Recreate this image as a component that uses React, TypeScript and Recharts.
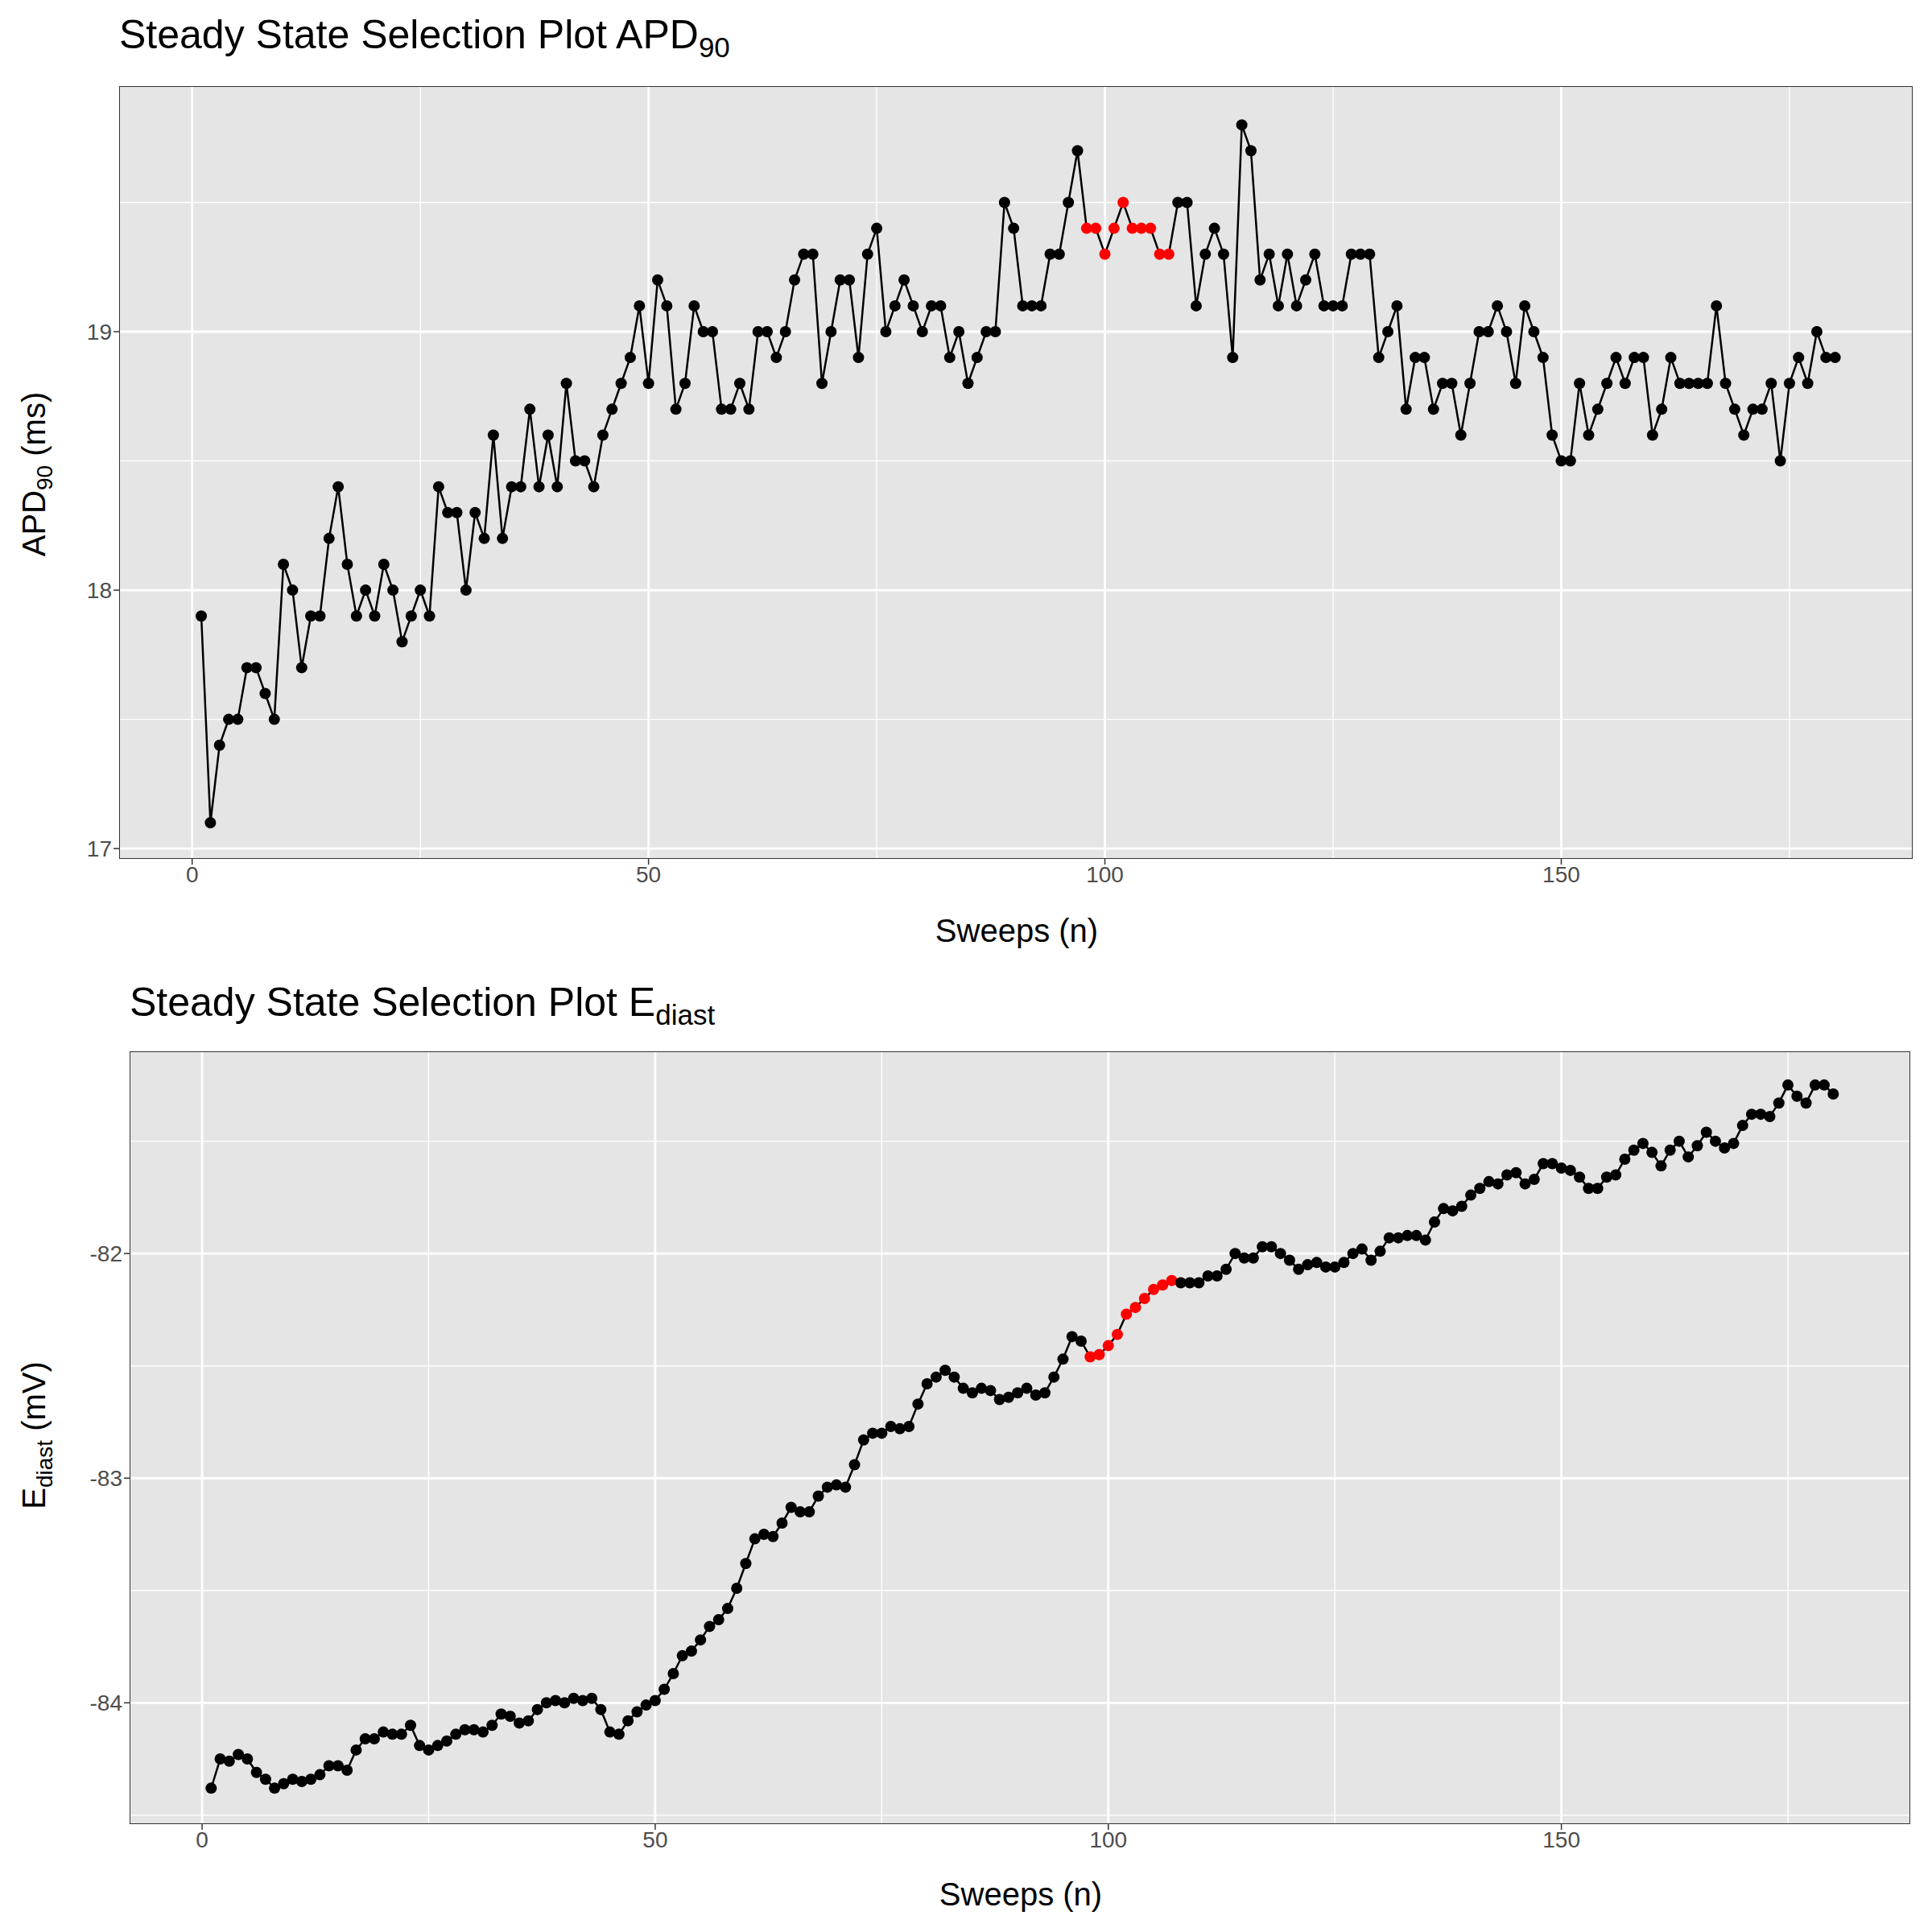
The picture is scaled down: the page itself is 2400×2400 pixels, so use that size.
import { LineChart, Line, XAxis, YAxis, CartesianGrid, ReferenceLine } from 'recharts';

const apd90 = [
  17.9, 17.1, 17.4, 17.5, 17.5, 17.7, 17.7, 17.6, 17.5, 18.1, 18.0, 17.7, 17.9, 17.9, 18.2, 18.4, 18.1, 17.9, 18.0, 17.9,
  18.1, 18.0, 17.8, 17.9, 18.0, 17.9, 18.4, 18.3, 18.3, 18.0, 18.3, 18.2, 18.6, 18.2, 18.4, 18.4, 18.7, 18.4, 18.6, 18.4,
  18.8, 18.5, 18.5, 18.4, 18.6, 18.7, 18.8, 18.9, 19.1, 18.8, 19.2, 19.1, 18.7, 18.8, 19.1, 19.0, 19.0, 18.7, 18.7, 18.8,
  18.7, 19.0, 19.0, 18.9, 19.0, 19.2, 19.3, 19.3, 18.8, 19.0, 19.2, 19.2, 18.9, 19.3, 19.4, 19.0, 19.1, 19.2, 19.1, 19.0,
  19.1, 19.1, 18.9, 19.0, 18.8, 18.9, 19.0, 19.0, 19.5, 19.4, 19.1, 19.1, 19.1, 19.3, 19.3, 19.5, 19.7, 19.4, 19.4, 19.3,
  19.4, 19.5, 19.4, 19.4, 19.4, 19.3, 19.3, 19.5, 19.5, 19.1, 19.3, 19.4, 19.3, 18.9, 19.8, 19.7, 19.2, 19.3, 19.1, 19.3,
  19.1, 19.2, 19.3, 19.1, 19.1, 19.1, 19.3, 19.3, 19.3, 18.9, 19.0, 19.1, 18.7, 18.9, 18.9, 18.7, 18.8, 18.8, 18.6, 18.8,
  19.0, 19.0, 19.1, 19.0, 18.8, 19.1, 19.0, 18.9, 18.6, 18.5, 18.5, 18.8, 18.6, 18.7, 18.8, 18.9, 18.8, 18.9, 18.9, 18.6,
  18.7, 18.9, 18.8, 18.8, 18.8, 18.8, 19.1, 18.8, 18.7, 18.6, 18.7, 18.7, 18.8, 18.5, 18.8, 18.9, 18.8, 19.0, 18.9, 18.9,
];

const ediast = [
  -84.38, -84.25, -84.26, -84.23, -84.25, -84.31, -84.34, -84.38, -84.36, -84.34, -84.35, -84.34, -84.32, -84.28, -84.28,
  -84.3, -84.21, -84.16, -84.16, -84.13, -84.14, -84.14, -84.1, -84.19, -84.21, -84.19, -84.17, -84.14, -84.12, -84.12,
  -84.13, -84.1, -84.05, -84.06, -84.09, -84.08, -84.03, -84.0, -83.99, -84.0, -83.98, -83.99, -83.98, -84.03, -84.13,
  -84.14, -84.08, -84.04, -84.01, -83.99, -83.94, -83.87, -83.79, -83.77, -83.72, -83.66, -83.63, -83.58, -83.49, -83.38,
  -83.27, -83.25, -83.26, -83.2, -83.13, -83.15, -83.15, -83.08, -83.04, -83.03, -83.04, -82.94, -82.83, -82.8, -82.8,
  -82.77, -82.78, -82.77, -82.67, -82.58, -82.55, -82.52, -82.55, -82.6, -82.62, -82.6, -82.61, -82.65, -82.64, -82.62,
  -82.6, -82.63, -82.62, -82.55, -82.47, -82.37, -82.39, -82.46, -82.45, -82.41, -82.36, -82.27, -82.24, -82.2, -82.16,
  -82.14, -82.12, -82.13, -82.13, -82.13, -82.1, -82.1, -82.07, -82.0, -82.02, -82.02, -81.97, -81.97, -82.0, -82.03,
  -82.07, -82.05, -82.04, -82.06, -82.06, -82.04, -82.0, -81.98, -82.03, -81.99, -81.93, -81.93, -81.92, -81.92, -81.94,
  -81.86, -81.8, -81.81, -81.79, -81.74, -81.71, -81.68, -81.69, -81.65, -81.64, -81.69, -81.67, -81.6, -81.6, -81.62,
  -81.63, -81.66, -81.71, -81.71, -81.66, -81.65, -81.58, -81.54, -81.51, -81.55, -81.61, -81.54, -81.5, -81.57, -81.52,
  -81.46, -81.5, -81.53, -81.51, -81.43, -81.38, -81.38, -81.39, -81.33, -81.25, -81.3, -81.33, -81.25, -81.25, -81.29,
];

// selected steady-state window (sweeps)
const selStart = 98;
const selEnd = 107;

const xMajor = [0, 50, 100, 150];
const xMinor = [25, 75, 125, 175];
const apdMajor = [17, 18, 19];
const apdMinor = [17.5, 18.5, 19.5];
const edMajor = [-84, -83, -82];
const edMinor = [-84.5, -83.5, -82.5, -81.5];

const apdData = apd90.map((v, i) => ({ sweep: i + 1, value: v }));
const edData = ediast.map((v, i) => ({ sweep: i + 1, value: v }));

const FONT = '"Liberation Sans", Arial, sans-serif';
const tick = { fill: '#4D4D4D', fontSize: 28, fontFamily: FONT };

const SelDot = (props: any) => {
  const { cx, cy, payload } = props;
  const sel = payload.sweep >= selStart && payload.sweep <= selEnd;
  return <circle cx={cx} cy={cy} r={7} fill={sel ? '#FF0000' : '#000'} stroke="none" />;
};

function Panel({ data, top, left, right, panelTop, panelBottom, domain, major, minor }: any) {
  const h = 1200;
  return (
    <div style={{ position: 'absolute', left: 0, top }}>
      <LineChart
        width={2400}
        height={h}
        data={data}
        margin={{ top: panelTop, right: 2400 - right, left: left - 80, bottom: h - panelBottom - 50 }}
      >
        <CartesianGrid fill="#E5E5E5" stroke="none" horizontal={false} vertical={false} />
        {minor.map((v: number) => (
          <ReferenceLine key={'ym' + v} y={v} stroke="#fff" strokeWidth={1.4} />
        ))}
        {xMinor.map((v) => (
          <ReferenceLine key={'xm' + v} x={v} stroke="#fff" strokeWidth={1.4} />
        ))}
        {major.map((v: number) => (
          <ReferenceLine key={'y' + v} y={v} stroke="#fff" strokeWidth={2.8} />
        ))}
        {xMajor.map((v) => (
          <ReferenceLine key={'x' + v} x={v} stroke="#fff" strokeWidth={2.8} />
        ))}
        <XAxis
          dataKey="sweep"
          type="number"
          domain={[-8, 188.5]}
          ticks={xMajor}
          allowDataOverflow
          height={50}
          tick={tick}
          axisLine={false}
          tickLine={{ stroke: '#333', strokeWidth: 1.5 }}
          tickSize={7}
        />
        <YAxis
          type="number"
          domain={domain}
          ticks={major}
          allowDataOverflow
          width={80}
          tick={tick}
          axisLine={false}
          tickLine={{ stroke: '#333', strokeWidth: 1.5 }}
          tickSize={7}
        />
        <Line
          dataKey="value"
          stroke="#000"
          strokeWidth={2.5}
          dot={<SelDot />}
          activeDot={false}
          isAnimationActive={false}
        />
      </LineChart>
      <div
        style={{
          position: 'absolute',
          left,
          top: panelTop,
          width: right - left,
          height: panelBottom - panelTop,
          border: '1.5px solid #333',
          boxSizing: 'border-box',
          pointerEvents: 'none',
        }}
      />
    </div>
  );
}

const txt = { position: 'absolute' as const, fontFamily: FONT, color: '#000', whiteSpace: 'nowrap' as const };
const center = 'translate(-50%, -50%)';

export default function App() {
  return (
    <div style={{ position: 'absolute', left: 0, top: 0, width: 2400, height: 2400, background: '#fff' }}>
      <Panel data={apdData} top={0} left={148} right={2376} panelTop={107} panelBottom={1067} domain={[16.96, 19.95]} major={apdMajor} minor={apdMinor} />
      <Panel data={edData} top={1200} left={161} right={2373} panelTop={106} panelBottom={1066} domain={[-84.54, -81.1]} major={edMajor} minor={edMinor} />

      <div style={{ ...txt, left: 148, top: 46, fontSize: 50, transform: 'translateY(-50%)' }}>
        Steady State Selection Plot APD<sub style={{ fontSize: 35 }}>90</sub>
      </div>
      <div style={{ ...txt, left: 161, top: 1248, fontSize: 50, transform: 'translateY(-50%)' }}>
        Steady State Selection Plot E<sub style={{ fontSize: 35 }}>diast</sub>
      </div>
      <div style={{ ...txt, left: 1263, top: 1156, fontSize: 40, transform: center }}>Sweeps (n)</div>
      <div style={{ ...txt, left: 1268, top: 2353, fontSize: 40, transform: center }}>Sweeps (n)</div>
      <div style={{ ...txt, left: 46, top: 589, fontSize: 40, transform: center + ' rotate(-90deg)' }}>
        APD<sub style={{ fontSize: 28 }}>90</sub> (ms)
      </div>
      <div style={{ ...txt, left: 46, top: 1783, fontSize: 40, transform: center + ' rotate(-90deg)' }}>
        E<sub style={{ fontSize: 28 }}>diast</sub> (mV)
      </div>
    </div>
  );
}
